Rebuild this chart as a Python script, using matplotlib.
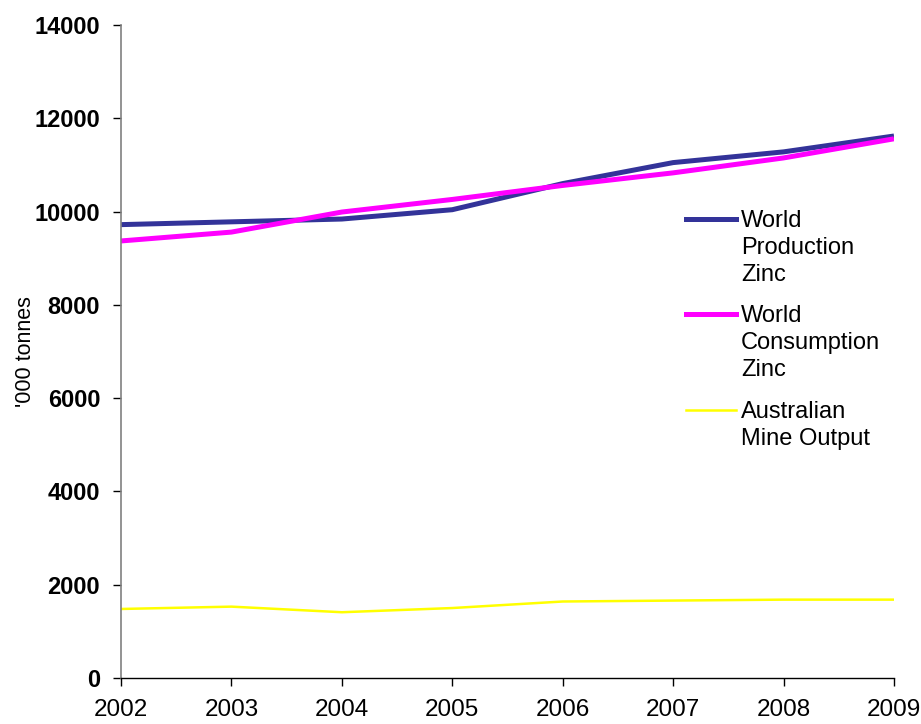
import matplotlib.pyplot as plt
from matplotlib.lines import Line2D

plt.rcParams['font.family'] = ['Liberation Sans', 'DejaVu Sans']

years = [2002, 2003, 2004, 2005, 2006, 2007, 2008, 2009]
world_production = [9720, 9780, 9840, 10040, 10600, 11050, 11280, 11620]
world_consumption = [9370, 9560, 9990, 10260, 10560, 10830, 11150, 11560]
australian_mine = [1480, 1530, 1410, 1500, 1640, 1660, 1680, 1680]

series_labels = ['World\nProduction\nZinc', 'World\nConsumption\nZinc',
                 'Australian\nMine Output']
series_colors = ['#333399', '#FF00FF', '#FFFF00']
series_widths = [3.6, 3.6, 1.8]

fig = plt.figure(figsize=(9.21, 7.24), dpi=100)
ax = fig.add_axes([121 / 921, 46 / 724, 773 / 921, 653 / 724])

for vals, col, lw in zip([world_production, world_consumption, australian_mine],
                         series_colors, series_widths):
    ax.plot(years, vals, color=col, linewidth=lw, solid_capstyle='butt')

ax.set_xlim(2002, 2009)
ax.set_ylim(0, 14000)
ax.set_xticks(years)
ax.set_yticks(range(0, 14001, 2000))

for lbl in ax.get_yticklabels():
    lbl.set_fontweight('bold')
ax.tick_params(axis='y', direction='out', length=6, width=1, color='#000000',
               labelsize=17, pad=9)
ax.tick_params(axis='x', direction='out', length=6, width=1, color='#000000',
               labelsize=17.5, pad=9)

ax.spines['top'].set_visible(False)
ax.spines['right'].set_visible(False)
ax.spines['left'].set_color('#808080')
ax.spines['left'].set_linewidth(1.2)
ax.spines['bottom'].set_color('#000000')
ax.spines['bottom'].set_linewidth(1)

ax.set_ylabel("'000 tonnes", fontsize=15.5)
ax.yaxis.set_label_coords(-0.11, 0.5)

# legend entries: handle sits beside the first line of each wrapped label
entry_tops = [208, 303, 399]
for label, col, lw, top in zip(series_labels, series_colors, series_widths, entry_tops):
    yc = 1 - (top + 11) / 724
    fig.add_artist(Line2D([686 / 921, 736 / 921], [yc, yc], color=col,
                          linewidth=lw, transform=fig.transFigure))
    fig.text(741 / 921, 1 - (top + 2) / 724, label, fontsize=17, va='top',
             ha='left', linespacing=1.29)

fig.savefig('out.png', dpi=100)
